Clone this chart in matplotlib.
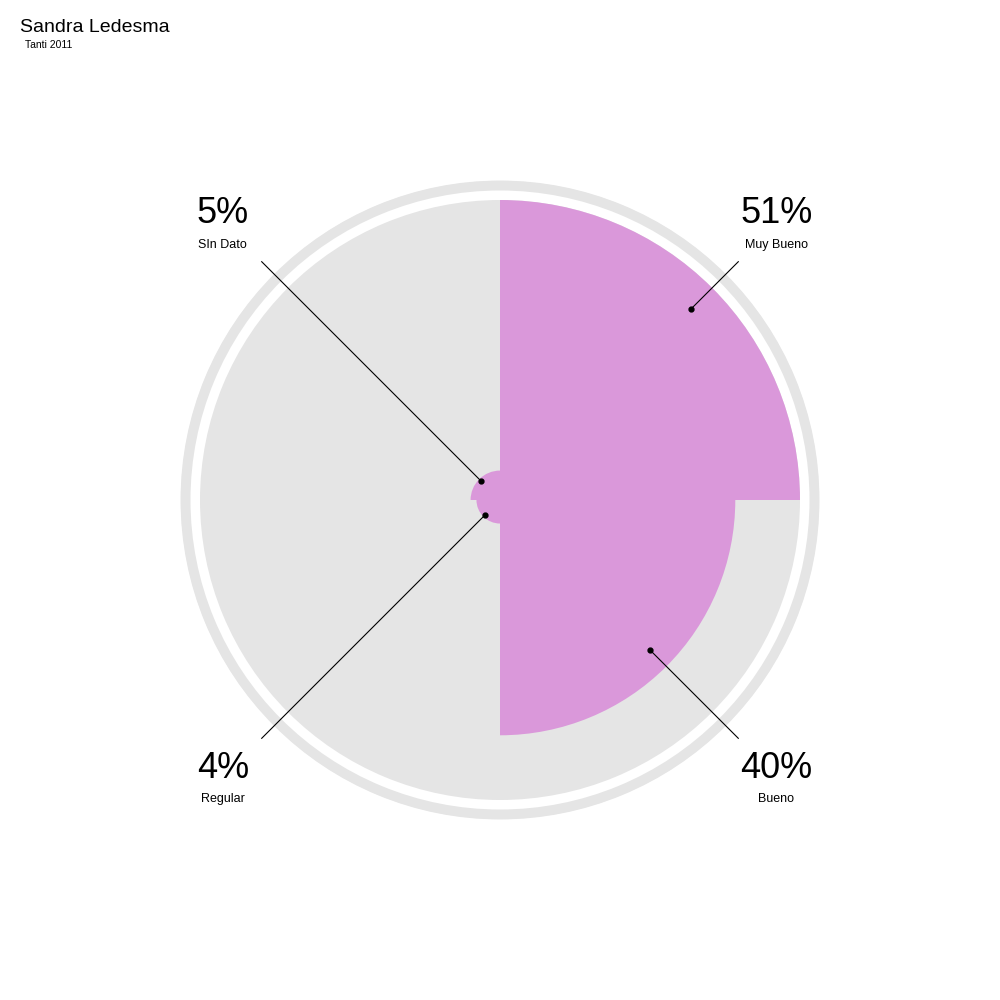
import numpy as np
from matplotlib import pyplot as plt

plt.rcParams['font.family'] = ['Liberation Sans', 'DejaVu Sans']

# data
categories = ["Muy Bueno", "Bueno", "Regular", "SIn Dato"]
values = [51, 40, 4, 5]
title = "Sandra Ledesma"
subtitle = "Tanti 2011"

pink = "#da98da"
gray = "#e5e5e5"

fig = plt.figure(figsize=(10, 10), dpi=100)
fig.text(0.02, 0.973, title, fontsize=14, va="center", ha="left")
fig.text(0.025, 0.955, subtitle, fontsize=7.5, va="center", ha="left")

# polar axes: 320 px radius maps to rmax
ax = fig.add_axes([0.18, 0.18, 0.64, 0.64], projection="polar")
ax.set_theta_zero_location("N")
ax.set_theta_direction(-1)
vmax = max(values)
scale = vmax / 300.0  # data units per pixel
ax.set_ylim(0, 320 * scale)
ax.set_axis_off()

# background disc and outer ring
ax.bar(0, vmax, width=2 * np.pi, bottom=0, color=gray, align="edge", linewidth=0)
ax.bar(0, 10 * scale, width=2 * np.pi, bottom=309.5 * scale, color=gray, align="edge", linewidth=0)

n = len(values)
width = 2 * np.pi / n
thetas = np.arange(n) * width
ax.bar(thetas, values, width=width, bottom=0, color=pink, align="edge", linewidth=0)

# leader lines and labels
r_end = 337 * scale
for i in range(n):
    mid = thetas[i] + width / 2
    v = values[i]
    ax.plot([mid, mid], [0.9 * v, r_end], color="black", linewidth=0.8, clip_on=False)
    ax.plot(mid, 0.9 * v, "o", color="black", markersize=3.5, clip_on=False)
    right = np.sin(mid) > 0
    top = np.cos(mid) > 0
    dx = 38 if right else -39
    if top:
        dy_pct, dy_lab = 48, 17
    else:
        dy_pct, dy_lab = -30, -61
    ax.annotate(f"{v}%", xy=(mid, r_end), xytext=(dx, dy_pct), textcoords="offset pixels",
                ha="center", va="center", fontsize=26, annotation_clip=False)
    ax.annotate(categories[i], xy=(mid, r_end), xytext=(dx, dy_lab), textcoords="offset pixels",
                ha="center", va="center", fontsize=9, annotation_clip=False)

fig.savefig("out.png", dpi=100)
